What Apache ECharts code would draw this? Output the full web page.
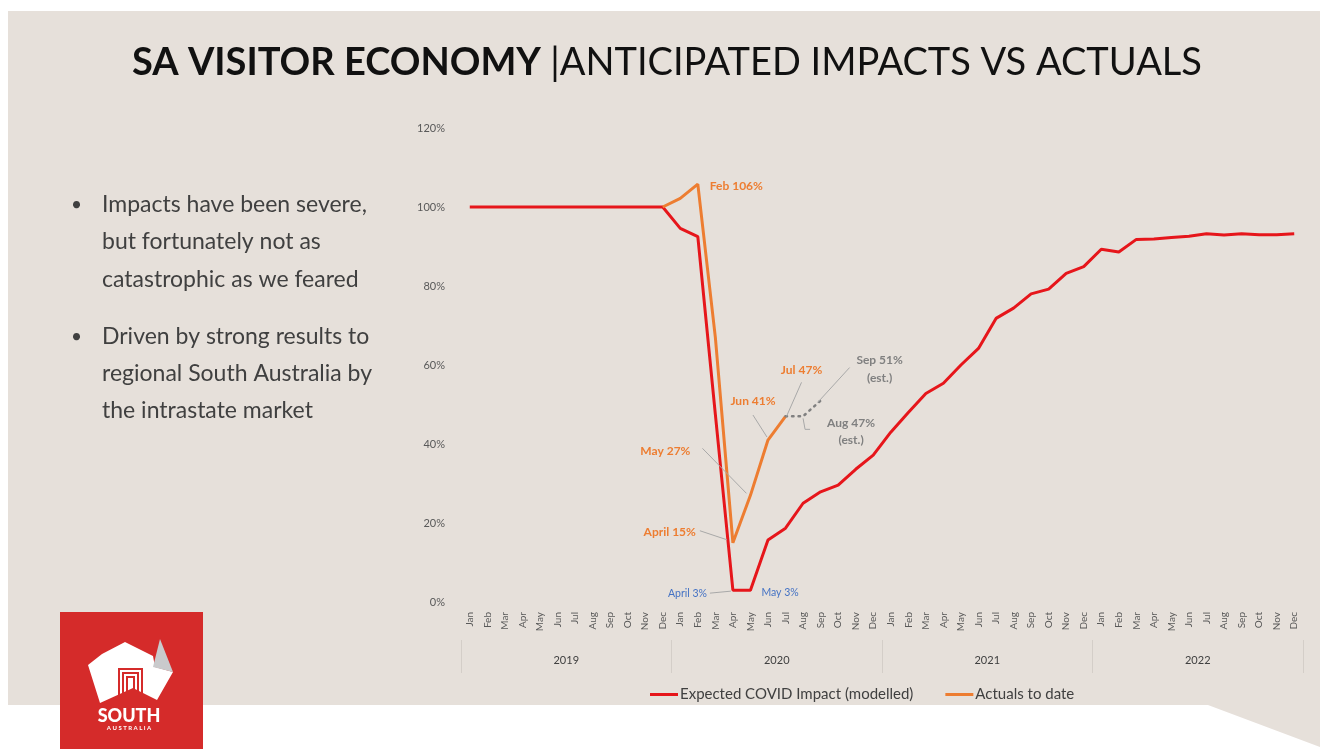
<!DOCTYPE html>
<html><head><meta charset="utf-8">
<script src="https://cdn.jsdelivr.net/npm/echarts/dist/echarts.min.js"></script>
<style>
html,body{margin:0;padding:0;background:#fff;width:1320px;height:749px;overflow:hidden;}
#bg{position:absolute;left:0;top:0;width:1320px;height:749px;background:#e6e0da;clip-path:polygon(8px 11px,1320px 11px,1320px 747px,1208px 705px,8px 705px);}
#chart{position:absolute;left:0;top:0;width:1320px;height:749px;}
</style></head><body><div id="bg"></div><div id="chart"></div>
<script>
// ---------- data ----------
const monthNames = ['Jan','Feb','Mar','Apr','May','Jun','Jul','Aug','Sep','Oct','Nov','Dec'];
const years = ['2019','2020','2021','2022'];
const yTicks = [0, 20, 40, 60, 80, 100, 120];

const expected2019 = [100,100,100,100,100,100,100,100,100,100,100,100];
const expected2020 = [94.6,92.5,47.5,3,3,15.7,18.7,25,27.9,29.6,33.6,37.2];
const expected2021 = [43,48,52.8,55.4,60,64.2,71.8,74.4,78,79.2,83.2,84.9];
const expected2022 = [89.3,88.6,91.8,91.9,92.3,92.6,93.2,92.9,93.2,93,93,93.2];

const actualMonths = ['Dec 2019','Jan 2020','Feb 2020','Mar 2020','Apr 2020','May 2020','Jun 2020','Jul 2020'];
const actualValues = [100,102.2,105.8,67,15,27,41,47];

const estimateMonths = ['Jul 2020','Aug 2020','Sep 2020'];
const estimateValues = [47,47,51];

const annotationTexts = [
  {key:'feb',  series:'actual',   month:'Feb 2020', lines:['Feb 106%']},
  {key:'apr',  series:'actual',   month:'Apr 2020', lines:['April 15%']},
  {key:'may',  series:'actual',   month:'May 2020', lines:['May 27%']},
  {key:'jun',  series:'actual',   month:'Jun 2020', lines:['Jun 41%']},
  {key:'jul',  series:'actual',   month:'Jul 2020', lines:['Jul 47%']},
  {key:'sep',  series:'estimate', month:'Sep 2020', lines:['Sep 51%','(est.)']},
  {key:'aug',  series:'estimate', month:'Aug 2020', lines:['Aug 47%','(est.)']},
  {key:'apr3', series:'expected', month:'Apr 2020', lines:['April 3%']},
  {key:'may3', series:'expected', month:'May 2020', lines:['May 3%']}
];

// ---------- derived ----------
const categories = [];
years.forEach(y => monthNames.forEach(m => categories.push(m + ' ' + y)));
const expectedValues = [].concat(expected2019, expected2020, expected2021, expected2022);
const expectedData = categories.map((c, i) => [c, expectedValues[i]]);
const actualData = actualMonths.map((m, i) => [m, actualValues[i]]);
const estimateData = estimateMonths.map((m, i) => [m, estimateValues[i]]);
const seriesLookup = {
  expected: {months: categories, values: expectedValues},
  actual: {months: actualMonths, values: actualValues},
  estimate: {months: estimateMonths, values: estimateValues}
};

// ---------- styles / layout ----------
const RED = '#e6161b', ORANGE = '#ed7d31', GRAY = '#808080', BLUE = '#4472c4', LEAD = '#a8a8a8';
const FONT = 'Lato, "Open Sans", sans-serif';
const annLayout = {
  feb:  {color:ORANGE, size:12, weight:'bold', dx:12, dy:2, align:'left'},
  apr:  {color:ORANGE, size:12, weight:'bold', dx:-37, dy:-11, align:'right', lead:[[-33,-12],[-6,-3]]},
  may:  {color:ORANGE, size:12, weight:'bold', dx:-60, dy:-44, align:'right', lead:[[-48,-47],[-4,-2]]},
  jun:  {color:ORANGE, size:12, weight:'bold', dx:-15, dy:-39, align:'center', lead:[[-15,-25],[-1,-3]]},
  jul:  {color:ORANGE, size:12, weight:'bold', dx:16, dy:-46, align:'center', lead:[[16,-34],[1,0]]},
  sep:  {color:GRAY, size:12, weight:'bold', dx:59, dy:-40, align:'center', lh:18, lead:[[29,-33],[-3,2]]},
  aug:  {color:GRAY, size:12, weight:'bold', dx:48, dy:7, align:'center', lh:17, lead:[[0,2],[2,13],[7,13]]},
  apr3: {color:BLUE, size:10.5, weight:'normal', dx:-26, dy:3, align:'right', lead:[[-23,3],[-2,1]]},
  may3: {color:BLUE, size:10.5, weight:'normal', dx:11, dy:2, align:'left'}
};

const staticGraphics = [
  // title
  {type:'text', x:667, y:44, z:10, style:{
    align:'center',
    text:'{b|SA VISITOR ECONOMY }{n||ANTICIPATED IMPACTS VS ACTUALS}',
    rich:{b:{fontFamily:FONT, fontSize:38, fontWeight:'bold', fill:'#111'}, n:{fontFamily:FONT, fontSize:38, fontWeight:'normal', fill:'#111'}}
  }},
  // logo
  {type:'rect', shape:{x:60,y:612,width:143,height:137}, style:{fill:'#d52b2a'}, z:5},
  {type:'polygon', shape:{points:[[88,665],[102,654],[125,642],[153,656],[155,667],[173,672],[157,700],[133,688],[100,703]]}, style:{fill:'#fff'}, z:6},
  {type:'polygon', shape:{points:[[160,639],[153,667],[173,672]]}, style:{fill:'#c9cacc'}, z:7},
  {type:'polyline', shape:{points:[[119,698],[119,669],[142,669],[142,698]]}, style:{stroke:'#d52b2a', lineWidth:2, fill:null}, z:8},
  {type:'polyline', shape:{points:[[123,698],[123,673],[138,673],[138,698]]}, style:{stroke:'#d52b2a', lineWidth:2, fill:null}, z:8},
  {type:'polyline', shape:{points:[[127,698],[127,677],[134,677],[134,698]]}, style:{stroke:'#d52b2a', lineWidth:2, fill:null}, z:8},
  {type:'text', x:129, y:716, z:8, style:{text:'SOUTH', fill:'#fff', fontFamily:FONT, fontWeight:900, fontSize:18, align:'center', verticalAlign:'middle'}},
  {type:'text', x:129, y:728, z:8, style:{text:'A U S T R A L I A', fill:'#fff', fontFamily:FONT, fontWeight:'bold', fontSize:6, align:'center', verticalAlign:'middle'}}
];
const bulletLines = [
  {y:205, t:'Impacts have been severe,', b:true},
  {y:242, t:'but fortunately not as'},
  {y:280, t:'catastrophic as we feared'},
  {y:337, t:'Driven by strong results to', b:true},
  {y:374, t:'regional South Australia by'},
  {y:411, t:'the intrastate market'}
];
bulletLines.forEach(l => {
  if (l.b) staticGraphics.push({type:'text', x:71, y:l.y, z:10, style:{text:'•', fill:'#404040', fontFamily:FONT, fontSize:19, verticalAlign:'middle'}});
  staticGraphics.push({type:'text', x:102, y:l.y, z:10, style:{text:l.t, fill:'#404040', fontFamily:FONT, fontSize:23, verticalAlign:'middle'}});
});

const chart = echarts.init(document.getElementById('chart'), null, {renderer:'canvas'});
chart.setOption({
  backgroundColor:'transparent',
  animation:false,
  textStyle:{fontFamily:FONT},
  grid:{left:461, right:17, top:128, bottom:147, containLabel:false},
  legend:{
    left:645, top:682, icon:'rect', itemWidth:28, itemHeight:3, itemGap:32,
    textStyle:{fontSize:15, color:'#404040', fontFamily:FONT, padding:[0,0,0,-3]},
    data:['Expected COVID Impact (modelled)','Actuals to date']
  },
  xAxis:[
    {type:'category', data:categories, boundaryGap:true,
     axisLine:{show:false}, axisTick:{show:false},
     axisLabel:{interval:0, rotate:90, fontSize:10, color:'#595959', margin:10, formatter:v => v.split(' ')[0]}},
    {type:'category', data:years, position:'bottom', offset:38, boundaryGap:true,
     axisLine:{show:false}, axisTick:{show:true, length:33, lineStyle:{color:'#d4cec8', width:1}},
     axisLabel:{fontSize:11, color:'#404040', margin:15}}
  ],
  yAxis:{type:'value', min:yTicks[0], max:yTicks[yTicks.length-1], interval:20,
    axisLine:{show:false}, axisTick:{show:false}, splitLine:{show:false},
    axisLabel:{formatter:'{value}%', fontSize:11, color:'#595959', margin:16}},
  series:[
    {name:'Expected COVID Impact (modelled)', type:'line', data:expectedData, showSymbol:false, symbol:'none',
     lineStyle:{color:RED, width:3}, itemStyle:{color:RED}, z:3},
    {name:'Actuals to date', type:'line', data:actualData, showSymbol:false, symbol:'none',
     lineStyle:{color:ORANGE, width:3}, itemStyle:{color:ORANGE}, z:4},
    {name:'estimate', type:'line', data:estimateData, showSymbol:false, symbol:'none',
     lineStyle:{color:GRAY, width:2.5, type:[1.5,5], cap:'round'}, z:4}
  ],
  graphic: staticGraphics
});

// annotations positioned relative to data points via the chart's scales
const annGraphics = [];
annotationTexts.forEach(a => {
  const L = annLayout[a.key];
  const s = seriesLookup[a.series];
  const v = s.values[s.months.indexOf(a.month)];
  const p = chart.convertToPixel({xAxisIndex:0, yAxisIndex:0}, [categories.indexOf(a.month), v]);
  const lh = L.lh || 16;
  a.lines.forEach((t, k) => {
    annGraphics.push({type:'text', x:p[0]+L.dx, y:p[1]+L.dy + k*lh, z:20, style:{
      text:t, fill:L.color, fontFamily:FONT, fontSize:L.size, fontWeight:L.weight, align:L.align, verticalAlign:'middle'}});
  });
  if (L.lead) {
    annGraphics.push({type:'polyline', z:19, shape:{points:L.lead.map(q => [p[0]+q[0], p[1]+q[1]])},
      style:{stroke:LEAD, lineWidth:1, fill:null}});
  }
});
chart.setOption({graphic: staticGraphics.concat(annGraphics)});
</script></body></html>
